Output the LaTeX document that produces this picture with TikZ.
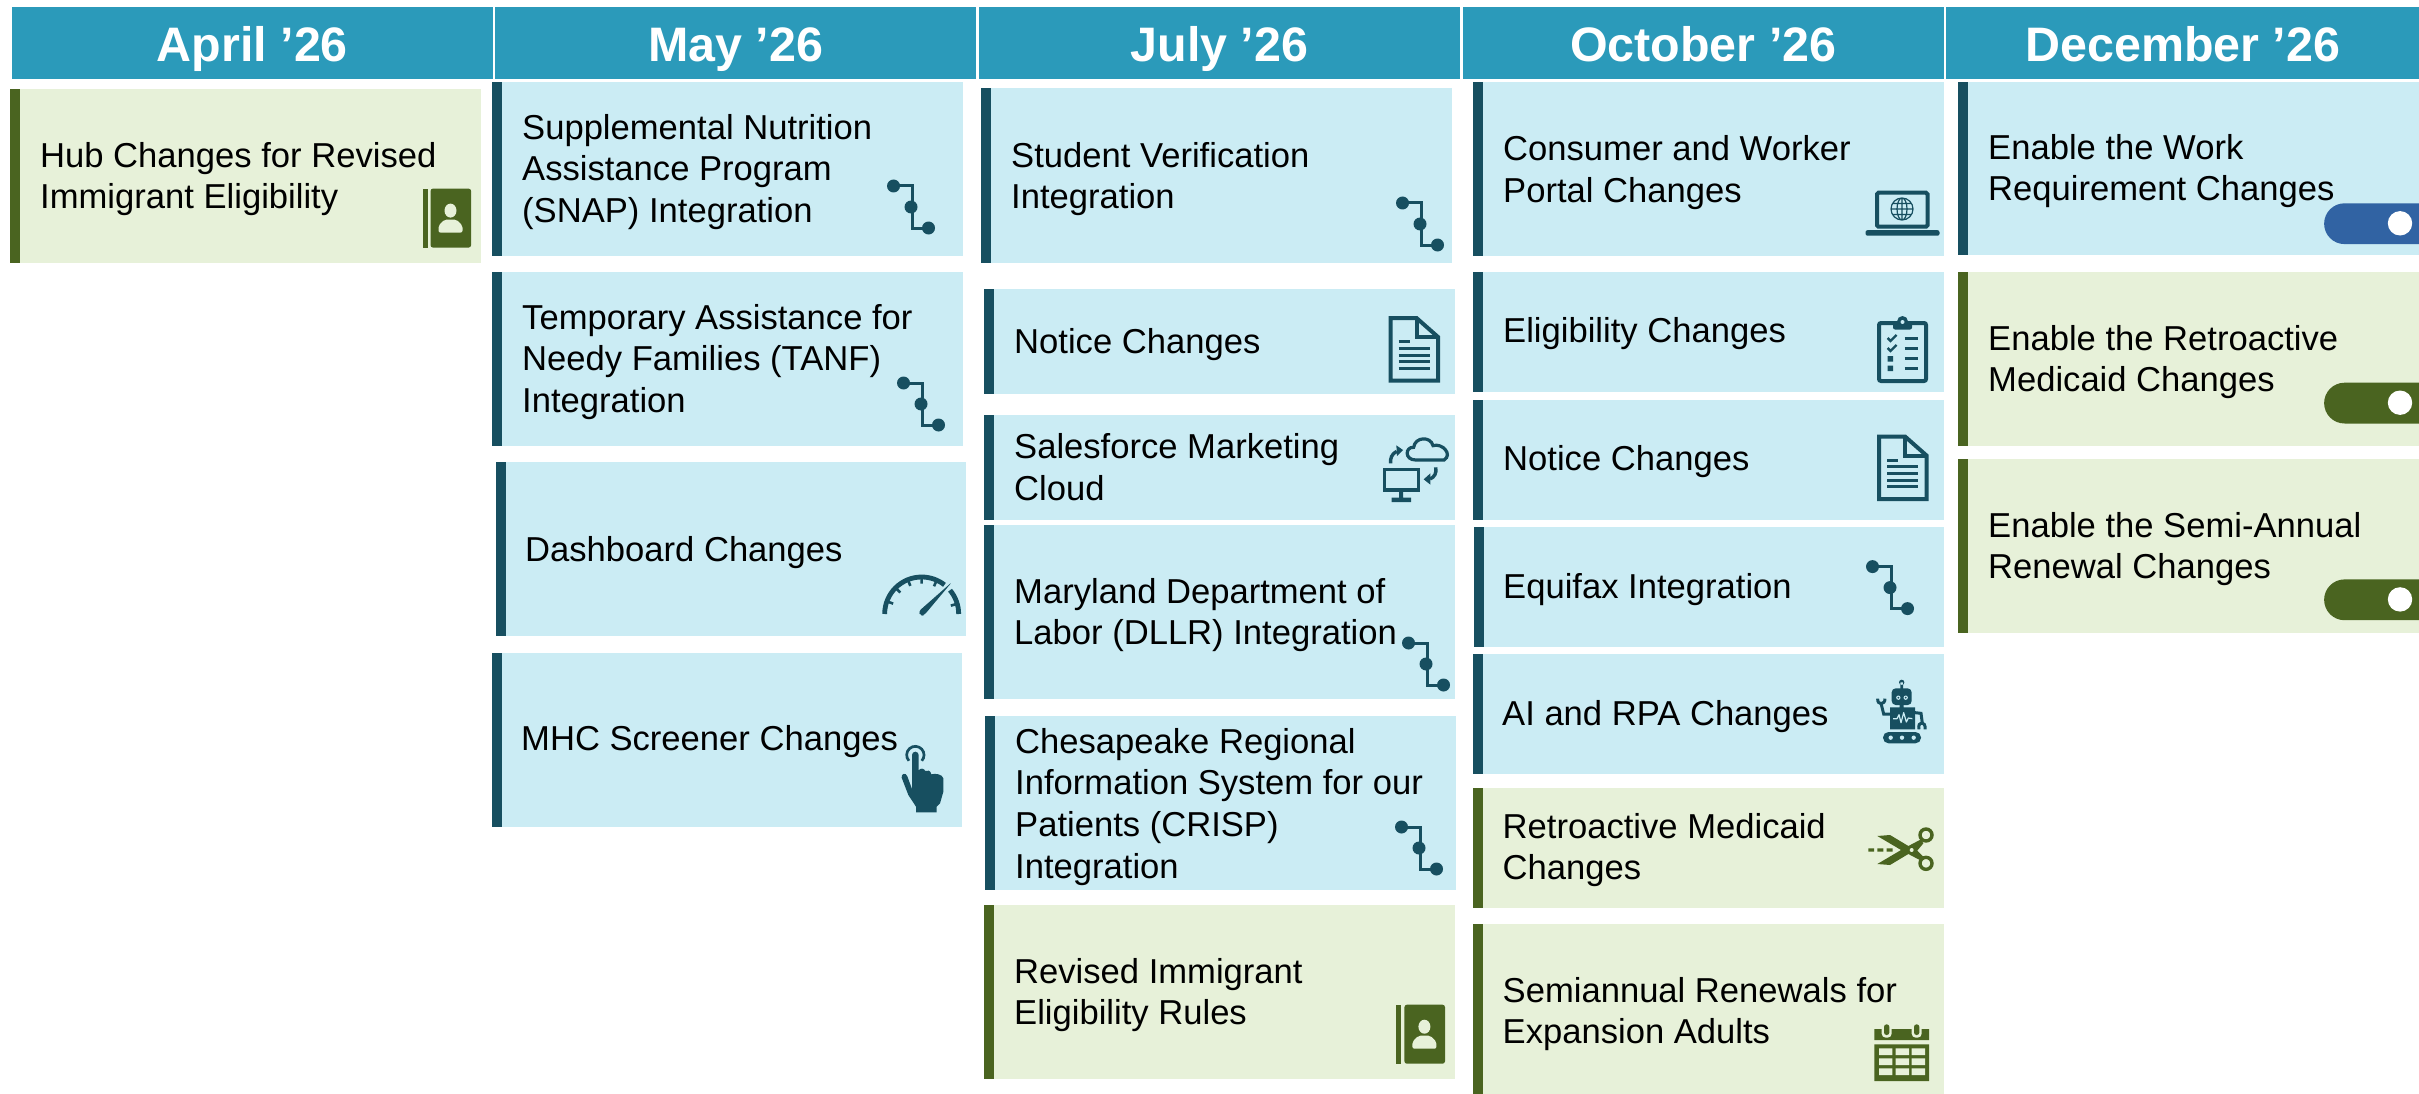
\documentclass[tikz,border=0pt]{standalone}
\usepackage{fontspec}
\setmainfont{Liberation Sans}
\definecolor{headblue}{HTML}{2B9ABA}
\definecolor{cardblue}{HTML}{CBECF4}
\definecolor{cardgreen}{HTML}{E7F1D9}
\definecolor{teal}{HTML}{174F60}
\definecolor{moss}{HTML}{4A6420}
\definecolor{togblue}{HTML}{3163A3}
\tikzset{
  x=1pt,y=-1pt,
  headbox/.style={fill=headblue,text=white,inner sep=0pt,anchor=north west,text height=37pt,text depth=0pt,
    font=\fontsize{48.4}{52}\selectfont\bfseries,align=center},
  cardtext/.style={anchor=north west,inner sep=0pt,align=left,text=black,font=\fontsize{34.6}{41.7}\selectfont},
}
\newcommand{\headcell}[4]{% name,x0,x1,text
  \pgfmathsetmacro{\hw}{#3-#2}
  \node[headbox,minimum width=\hw pt,minimum height=72.4pt] (#1) at (#2,6.4) {#4};}
\newcommand{\card}[6]{% fill,bar,x0,y0,x1,y1
  \fill[#1] (#3,#4) rectangle (#5,#6);
  \fill[#2] (#3,#4) rectangle ({#3+10},#6);}
\newcommand{\bluecard}[4]{\card{cardblue}{teal}{#1}{#2}{#3}{#4}}
\newcommand{\greencard}[4]{\card{cardgreen}{moss}{#1}{#2}{#3}{#4}}
\newcommand{\cardlabel}[4]{% name,x,baseline,text
  \node[cardtext] (#1) at (#2,{#3-28}) {\rule{0pt}{28pt}#4};}
% connector icon: centre dot
\newcommand{\iconconn}[2]{\begin{scope}[shift={(#1,#2)}]
  \draw[teal,line width=3pt] (-17.5,-21) -- (1,-21) -- (1,21) -- (17.5,21);
  \fill[teal] (-17.5,-21) circle (6.5) (0,0) circle (6.5) (17.5,21) circle (6.5);
\end{scope}}
% document icon: top left
\newcommand{\icondoc}[2]{\begin{scope}[shift={(#1,#2)}]
  \draw[teal,line width=4pt,miter limit=2] (2,2) -- (28,2) -- (49.5,21) -- (49.5,64.5) -- (2,64.5) -- cycle;
  \draw[teal,line width=4pt] (28,2) -- (28,21) -- (49.5,21);
  \draw[teal,line width=3pt] (10,25.6) -- (21,25.6) (10,32) -- (41,32) (10,39) -- (41,39) (10,45.6) -- (41,45.6) (10,52) -- (41,52);
\end{scope}}
% clipboard icon
\newcommand{\iconclip}[2]{\begin{scope}[shift={(#1,#2)}]
  \draw[teal,line width=4pt,rounded corners=2pt] (2,7) rectangle (49,65);
  \fill[teal,rounded corners=2pt] (16,13.5) rectangle (35,5);
  \fill[teal] (25.5,5.5) circle (5.5);
  \fill[cardblue] (25.5,6) circle (2);
  \draw[teal,line width=2.4pt] (10.6,22) -- (13.5,25) -- (19.5,19) (10.6,32) -- (13.5,35) -- (19.5,29);
  \fill[teal] (10.5,40) rectangle (16,45.5) (10.5,49.5) rectangle (16,55);
  \draw[teal,line width=3pt] (27.7,22) -- (41,22) (27.7,32) -- (41,32) (27.7,42.5) -- (41,42.5) (27.7,52) -- (41,52);
\end{scope}}
% contact book icon
\newcommand{\iconbook}[2]{\begin{scope}[shift={(#1,#2)}]
  \fill[moss] (0,0) rectangle (5,59);
  \fill[moss,rounded corners=2.5pt] (8,0) rectangle (48.6,59);
  \fill[cardgreen] (28,22) ellipse (6 and 7);
  \fill[cardgreen,rounded corners=2pt] (16,44) -- (16,37) -- (22,31) -- (34,31) -- (40,37) -- (40,44) -- cycle;
\end{scope}}
% toggle: top y, knob
\newcommand{\icontoggle}[2]{%
  \fill[#1] (2419,#2) -- (2344.5,#2) arc[start angle=-90,end angle=-270,radius=20.4] -- (2419,{#2+40.8}) -- cycle;
  \fill[white] (2400,{#2+20}) circle (12.2);}
\begin{document}
\begin{tikzpicture}
\useasboundingbox (0,0) rectangle (2419,1094);
\fill[white] (0,0) rectangle (2419,1094);
% headers
\headcell{hApr}{12}{492.5}{April ’26}
\headcell{hMay}{495}{976}{May ’26}
\headcell{hJul}{978.5}{1460}{July ’26}
\headcell{hOct}{1462.5}{1943.5}{October ’26}
\headcell{hDec}{1946}{2419}{December ’26}
% April
\greencard{10}{89}{481}{262.5}
\cardlabel{tHub}{40}{167}{Hub Changes for Revised\\Immigrant Eligibility}
\iconbook{422.5}{188.6}
% May
\bluecard{492}{82}{963}{256}
\cardlabel{tSnap}{522}{139}{Supplemental Nutrition\\Assistance Program\\(SNAP) Integration}
\iconconn{911}{207}
\bluecard{492}{272}{963}{446}
\cardlabel{tTanf}{522}{329}{Temporary Assistance for\\Needy Families (TANF)\\Integration}
\iconconn{921}{404}
\bluecard{496}{462}{966}{636}
\cardlabel{tDash}{525}{561}{Dashboard Changes}
\begin{scope}[shift={(870,560)},x=1pt/3,y=-1pt/3]
  \draw[teal,line width=4.8pt] (44,162) arc[start angle=180,end angle=308,radius=111];
  \draw[teal,line width=4.8pt] (155,162) ++(-40:111) arc[start angle=-40,end angle=0,radius=111];
  \draw[teal,line width=2.6pt]
    (155,162) ++(-16:111) -- ++(164:20)
    (155,162) ++(-160:111) -- ++(20:20)
    (155,162) ++(-135:111) -- ++(45:20)
    (155,162) ++(-112:111) -- ++(68:20)
    (155,162) ++(-90:111) -- ++(90:20)
    (155,162) ++(-66:111) -- ++(114:20);
  \fill[teal,rounded corners=3pt] (145,155) -- (246,66) -- (163,165) -- (153,168) -- cycle;
\end{scope}
\bluecard{492}{653}{962}{827}
\cardlabel{tMhc}{521}{750}{MHC Screener Changes}
\begin{scope}[shift={(890,735)},x=1pt/3,y=-1pt/3]
  \draw[teal,line width=2.7pt] (56.7,77.4) arc[start angle=138,end angle=402,radius=26];
  \fill[teal] (66,60) arc[start angle=180,end angle=360,radius=10] -- (86,106)
    .. controls (92,98) and (102,100) .. (106,108)
    .. controls (112,104) and (122,106) .. (124,118)
    .. controls (135,114) and (158,118) .. (160,130)
    -- (160,170) -- (150,205) -- (140,215) -- (140,232) -- (78,232) -- (78,215)
    -- (55,180) -- (35,128) .. controls (33,115) and (48,112) .. (52,124) -- (66,162) -- cycle;
\end{scope}
% July
\bluecard{981}{88}{1452}{263}
\cardlabel{tStud}{1011}{167}{Student Verification\\Integration}
\iconconn{1420}{224}
\bluecard{984}{289}{1455}{393.5}
\cardlabel{tNot1}{1014}{353.5}{Notice Changes}
\icondoc{1388.5}{316}
\bluecard{984}{415}{1455}{520}
\cardlabel{tSfmc}{1014}{458.5}{Salesforce Marketing\\Cloud}
\begin{scope}[shift={(1375,430)},x=1pt/3,y=-1pt/3]
  \draw[teal,line width=3.2pt] (28,118) rectangle (130,180);
  \fill[teal] (72,183) rectangle (84,205) (50,203) rectangle (108,216);
  \draw[teal,line width=3.2pt] (122,90) .. controls (88,90) and (90,50) .. (116,52)
    .. controls (120,20) and (167,18) .. (174,47)
    .. controls (202,38) and (234,74) .. (207,90) -- cycle;
  \draw[teal,line width=3.4pt] (47,100) .. controls (45,85) and (50,72) .. (65,64);
  \fill[teal] (64,46) -- (84,60) -- (66,78) -- cycle;
  \draw[teal,line width=3.4pt] (182,112) .. controls (186,128) and (178,142) .. (165,147);
  \fill[teal] (166,130) -- (146,148) -- (166,164) -- cycle;
\end{scope}
\bluecard{984}{525}{1455}{699}
\cardlabel{tDllr}{1014}{603}{Maryland Department of\\Labor (DLLR) Integration}
\iconconn{1426}{664}
\bluecard{985}{716}{1456}{890}
\cardlabel{tCrisp}{1015}{753}{Chesapeake Regional\\Information System for our\\Patients (CRISP)\\Integration}
\iconconn{1419}{848}
\greencard{984}{905}{1455}{1079}
\cardlabel{tRev}{1014}{983}{Revised Immigrant\\Eligibility Rules}
\iconbook{1396.4}{1004.7}
% October
\bluecard{1473}{82}{1944}{256}
\cardlabel{tPort}{1503}{160.5}{Consumer and Worker\\Portal Changes}
\begin{scope}[shift={(1865.5,190.7)}]
  \draw[teal,line width=4pt,rounded corners=1.5pt] (11.5,2) rectangle (62,36);
  \fill[teal,rounded corners=2pt] (0,39.5) rectangle (74,45);
  \draw[teal,line width=1.2pt] (36.5,18.3) circle (11) ellipse (5 and 11) (25.5,18.3) -- (47.5,18.3)
    (27,12.8) -- (46,12.8) (27,23.8) -- (46,23.8) (36.5,7.3) -- (36.5,29.3);
\end{scope}
\bluecard{1473}{272}{1944}{392}
\cardlabel{tElig}{1503}{342.5}{Eligibility Changes}
\iconclip{1877}{316}
\bluecard{1473}{400}{1944}{520}
\cardlabel{tNot2}{1503}{470.5}{Notice Changes}
\icondoc{1877}{434.5}
\bluecard{1474}{527}{1944}{646.5}
\cardlabel{tEqui}{1503}{598.5}{Equifax Integration}
\iconconn{1890}{587.6}
\bluecard{1473}{654}{1944}{773.6}
\cardlabel{tAi}{1502}{725}{AI and RPA Changes}
\begin{scope}[shift={(1865,670)},x=1pt/3,y=-1pt/3]
  \fill[teal] (110,37) circle (8) (106,37) rectangle (114,58);
  \fill[teal,rounded corners=4pt] (80,55) rectangle (140,105);
  \fill[cardblue] (100,83) circle (6.5) (122,83) circle (6.5);
  \fill[teal] (100,83) circle (3) (122,83) circle (3);
  \fill[teal] (75,112) rectangle (150,178) (104,105) rectangle (116,112);
  \draw[cardblue,line width=1.2pt,line join=round] (84,146) -- (96,146) -- (102,134) -- (108,158) -- (116,128) -- (124,156) -- (130,144) -- (142,146);
  \draw[teal,line width=3pt] (75,132) -- (56,132) -- (48,100);
  \draw[teal,line width=3pt] (38,86) .. controls (36,106) and (60,106) .. (60,86);
  \draw[teal,line width=3pt] (150,128) -- (168,130) -- (172,160);
  \draw[teal,line width=3pt] (162,178) .. controls (156,152) and (184,152) .. (180,178);
  \fill[teal,rounded corners=5.5pt] (54,186) rectangle (168,220);
  \fill[cardblue] (77,203) circle (6.5) (111,203) circle (6.5) (146,203) circle (6.5);
\end{scope}
\greencard{1473}{788}{1944}{908}
\cardlabel{tRetro}{1502.5}{838}{Retroactive Medicaid\\Changes}
\begin{scope}[shift={(1860,820)},x=1pt/3,y=-1pt/3]
  \draw[moss,line width=3.4pt] (198,45) circle (18) (198,130) circle (18);
  \fill[moss] (52,48) -- (90,45) -- (145,78) -- (183,58) -- (190,70) -- (165,100) -- (140,100) -- cycle;
  \fill[moss] (52,132) -- (90,135) -- (145,102) -- (183,122) -- (190,110) -- (165,85) -- (140,80) -- cycle;
  \fill[cardgreen] (155,90) circle (6);
  \fill[moss] (25,85) rectangle (42,95) (52,85) rectangle (70,95) (80,85) rectangle (98,95);
\end{scope}
\greencard{1473}{924}{1944}{1094}
\cardlabel{tSemi}{1502.5}{1002}{Semiannual Renewals for\\Expansion Adults}
\begin{scope}[shift={(1865,1015)},x=1pt/3,y=-1pt/3]
  \fill[moss] (28,42) rectangle (192,75) (28,88) rectangle (192,198);
  \fill[cardgreen,rounded corners=4pt] (50,24) rectangle (80,68) (140,24) rectangle (170,68);
  \fill[moss,rounded corners=2.5pt] (57,28) rectangle (73,60) (147,28) rectangle (163,60);
  \fill[cardgreen] (42,100) rectangle (82,120) (92,100) rectangle (132,120) (140,100) rectangle (180,120)
    (42,130) rectangle (82,150) (92,130) rectangle (132,150) (140,130) rectangle (180,150)
    (42,160) rectangle (82,180) (92,160) rectangle (132,180) (140,160) rectangle (180,180);
\end{scope}
% December
\bluecard{1958}{82}{2419}{255}
\cardlabel{tWork}{1988}{159}{Enable the Work\\Requirement Changes}
\icontoggle{togblue}{203.3}
\greencard{1958}{272}{2419}{446}
\cardlabel{tRetEn}{1988}{350}{Enable the Retroactive\\Medicaid Changes}
\icontoggle{moss}{382.7}
\greencard{1958}{459}{2419}{633}
\cardlabel{tSemEn}{1988}{537}{Enable the Semi-Annual\\Renewal Changes}
\icontoggle{moss}{579.4}
\end{tikzpicture}
\end{document}
